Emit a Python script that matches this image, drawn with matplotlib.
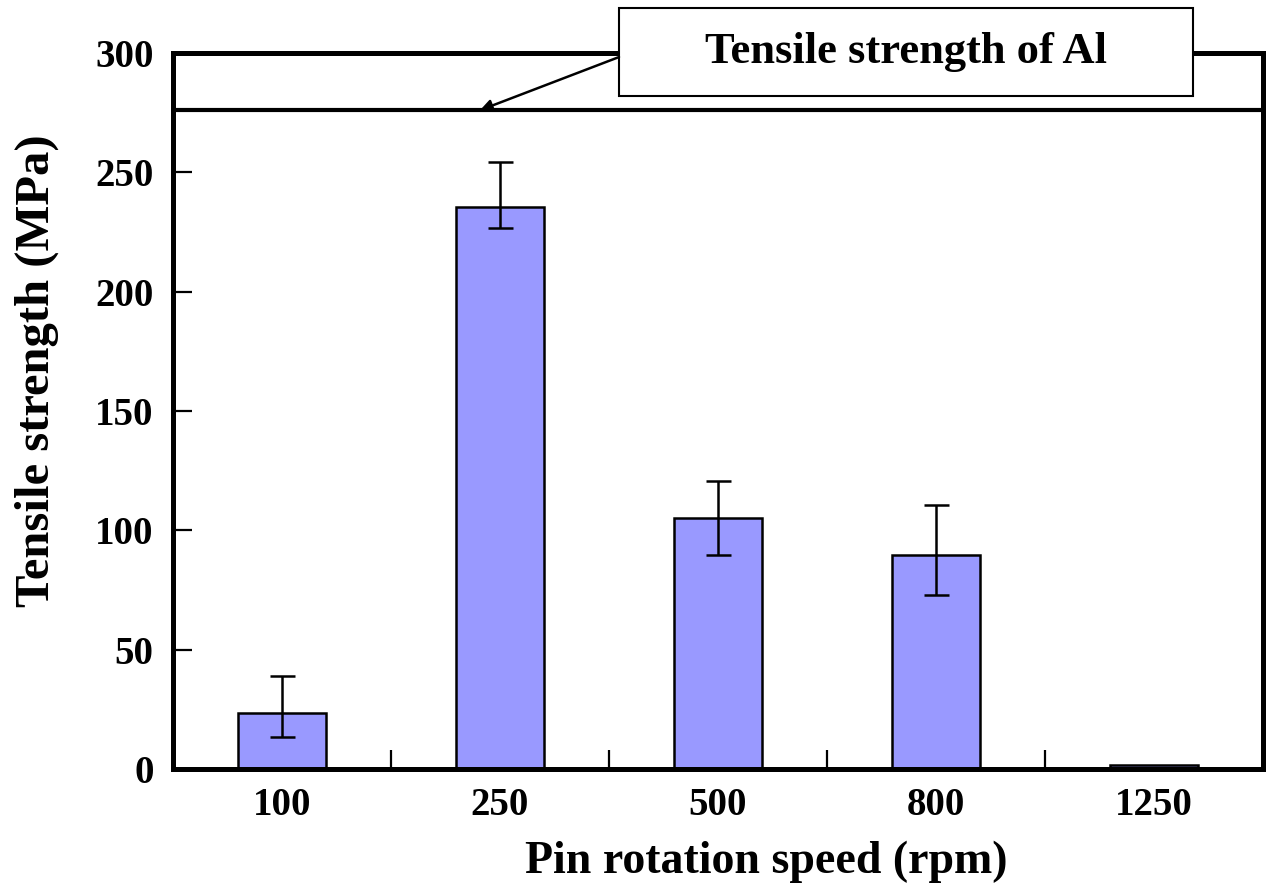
import numpy as np
import matplotlib
matplotlib.use('Agg')
import matplotlib.pyplot as plt
from matplotlib.patches import Rectangle

# data
speeds = ['100', '250', '500', '800', '1250']
strength = [23.5, 235.5, 105, 89.5, 1.5]
err_low = [10, 9, 15.5, 16.5]     # first four bars only
err_high = [15.5, 19, 15.5, 21]
al_strength = 276

plt.rcParams['font.family'] = ['Liberation Serif', 'DejaVu Serif']
plt.rcParams['font.weight'] = 'bold'

fig = plt.figure(figsize=(12.71, 8.92), dpi=100)
ax = fig.add_axes([0.1361, 0.1379, 0.8576, 0.8027])

x = np.arange(len(speeds))
ax.bar(x, strength, width=0.4, color='#9999ff', edgecolor='black', linewidth=1.8, zorder=2)
ax.errorbar(x[:4], strength[:4], yerr=[err_low, err_high], fmt='none',
            ecolor='black', elinewidth=1.8, capsize=9, capthick=1.8, zorder=3)

# tensile strength of base Al
ax.axhline(al_strength, color='black', lw=3, zorder=4)

ax.set_xlim(-0.5, 4.5)
ax.set_ylim(0, 300)
ax.set_yticks(np.arange(0, 301, 50))
ax.set_xticks(x, speeds)
ax.set_xticks(x[:-1] + 0.5, minor=True)
ax.tick_params(axis='x', which='major', length=0, pad=13, labelsize=28)
ax.tick_params(axis='x', which='minor', direction='in', length=14, width=1.6)
ax.tick_params(axis='y', direction='in', length=14, width=1.6, pad=14, labelsize=28)
for lab in ax.get_xticklabels() + ax.get_yticklabels():
    lab.set_fontweight('bold')

for s in ax.spines.values():
    s.set_linewidth(3.6)

ax.set_xlabel('Pin rotation speed (rpm)', fontsize=33, fontweight='bold')
ax.xaxis.set_label_coords(0.544, -0.1)
ax.set_ylabel('Tensile strength (MPa)', fontsize=35, fontweight='bold')
ax.yaxis.set_label_coords(-0.105, 0.556)

# label box with arrow
box = Rectangle((1.546, 282.0), 2.633, 36.9, facecolor='white', edgecolor='black',
                lw=1.5, clip_on=False, zorder=6)
ax.add_patch(box)
ax.text(2.862, 300.4, 'Tensile strength of Al', ha='center', va='center',
        fontsize=32, fontweight='bold', zorder=7, clip_on=False)
ax.annotate('', xy=(0.908, al_strength), xytext=(1.546, 298.3),
            arrowprops=dict(arrowstyle='-|>', color='black', lw=1.8, mutation_scale=18,
                            shrinkA=0, shrinkB=0),
            zorder=7, annotation_clip=False)

fig.savefig('out.png', dpi=100)
